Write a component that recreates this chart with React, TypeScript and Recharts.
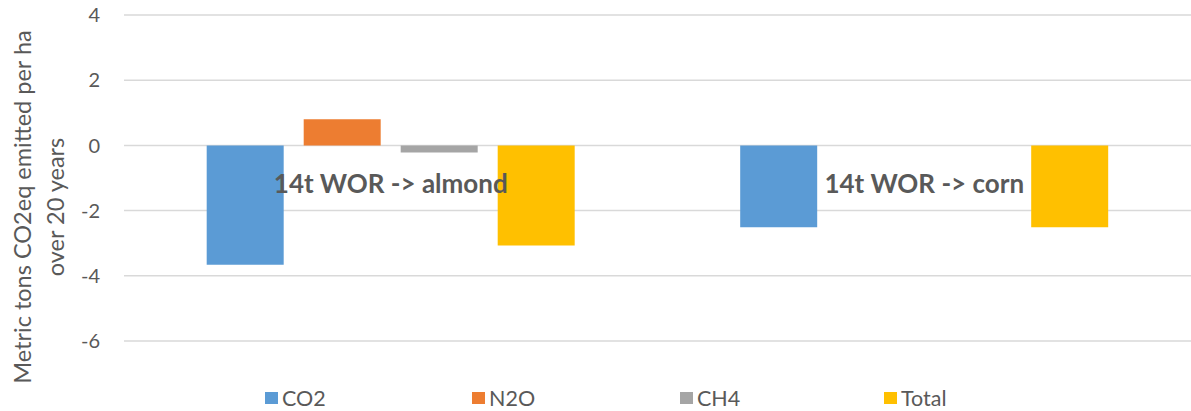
import { BarChart, Bar, XAxis, YAxis, CartesianGrid, Legend } from 'recharts';

const categories = ['14t WOR -> almond', '14t WOR -> corn'];
const co2 = [-3.66, -2.51];
const n2o = [0.8, 0];
const ch4 = [-0.22, 0];
const total = [-3.07, -2.51];
const yTicks = [-6, -4, -2, 0, 2, 4];

const seriesInfo = [
  { key: 'CO2', color: '#5B9BD5' },
  { key: 'N2O', color: '#ED7D31' },
  { key: 'CH4', color: '#A5A5A5' },
  { key: 'Total', color: '#FFC000' },
];

const data = categories.map((name, i) => ({
  name,
  CO2: co2[i],
  N2O: n2o[i],
  CH4: ch4[i],
  Total: total[i],
}));

const FONT = 'Lato, "Open Sans", sans-serif';
const TEXT = '#595959';

// category labels sit inside the plot, just under the zero line
const renderCategoryTick = ({ x, y, payload }: any) => (
  <text
    key={payload.value}
    x={x}
    y={y - 148}
    textAnchor="middle"
    fill={TEXT}
    fontFamily={FONT}
    fontWeight="bold"
    fontSize={26}
  >
    {payload.value}
  </text>
);

const YLabel = () => (
  <text
    transform="translate(31, 207) rotate(-90)"
    textAnchor="middle"
    fill={TEXT}
    fontFamily={FONT}
    fontSize={23.5}
  >
    <tspan x={0} dy={0}>Metric tons CO2eq emitted per ha</tspan>
    <tspan x={0} dy={33}>over 20 years</tspan>
  </text>
);

const legendLefts = [265, 472, 680, 884];

const LegendContent = () => (
  <div style={{ position: 'relative', height: 68, width: 1191 }}>
    {seriesInfo.map((s, i) => (
      <div
        key={s.key}
        style={{
          position: 'absolute',
          left: legendLefts[i],
          top: 46,
          display: 'flex',
          alignItems: 'center',
          fontFamily: FONT,
          fontSize: 21.5,
          color: TEXT,
          lineHeight: '20px',
        }}
      >
        <span style={{ width: 13, height: 12, background: s.color, marginRight: 4, display: 'inline-block' }} />
        {s.key}
      </div>
    ))}
  </div>
);

export default function App() {
  return (
    <div style={{ position: 'absolute', left: 0, top: 0, width: 1191, height: 411, background: '#fff' }}>
      <BarChart
        width={1191}
        height={411}
        data={data}
        margin={{ top: 15, right: 0, left: 0, bottom: 1 }}
        barCategoryGap="15.5%"
        barGap={20}
      >
        <CartesianGrid vertical={false} stroke="#D9D9D9" strokeWidth={1.5} />
        <XAxis
          dataKey="name"
          axisLine={false}
          tickLine={false}
          height={1}
          tickSize={0}
          tickMargin={0}
          tick={renderCategoryTick}
          interval={0}
        />
        <YAxis
          width={124}
          domain={[-6, 4]}
          ticks={yTicks}
          axisLine={false}
          tickLine={false}
          tickSize={0}
          tickMargin={24}
          tick={{ fill: TEXT, fontFamily: FONT, fontSize: 20 }}
          label={<YLabel />}
        />
        <Legend verticalAlign="bottom" content={<LegendContent />} wrapperStyle={{ height: 68 }} />
        {seriesInfo.map((s) => (
          <Bar key={s.key} dataKey={s.key} fill={s.color} isAnimationActive={false} />
        ))}
      </BarChart>
    </div>
  );
}
